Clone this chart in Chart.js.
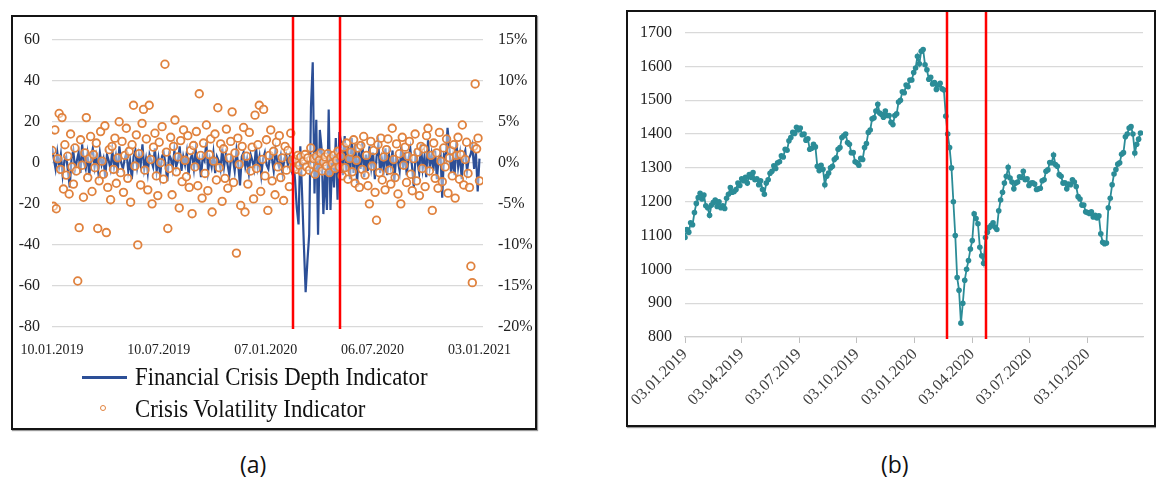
<!DOCTYPE html>
<html>
<head>
<meta charset="utf-8">
<script src="https://cdn.jsdelivr.net/npm/chart.js@4/dist/chart.umd.min.js"></script>
<style>
  body { margin: 0; background: #fff; width: 1156px; height: 481px; overflow: hidden; position: relative; font-family: "Liberation Serif", serif; }
  .box { position: absolute; border: 2px solid #141414; box-sizing: border-box; box-shadow: 1px 1px 1px #999; }
  canvas { position: absolute; }
  .cap { position: absolute; font-family: "Open Sans", sans-serif; font-size: 23px; color: #111; line-height: 1; }
  .leg { position: absolute; font-size: 25px; line-height: 25px; color: #111; white-space: nowrap; transform: scaleX(0.91); transform-origin: left top; }
  .legline { position: absolute; height: 3px; background: #2c4f97; }
  .legdot { position: absolute; width: 4px; height: 4px; border: 1.5px solid #e0823e; border-radius: 50%; }
</style>
</head>
<body>
<div class="box" style="left:11px;top:15px;width:526px;height:415px"></div>
<canvas id="chartA" width="526" height="415" style="left:11px;top:15px"></canvas>
<div class="legline" style="left:82px;top:376px;width:45px"></div>
<div class="leg" style="left:135px;top:364px">Financial Crisis Depth Indicator</div>
<div class="legdot" style="left:100px;top:405px"></div>
<div class="leg" style="left:135px;top:396px">Crisis Volatility Indicator</div>

<div class="box" style="left:626px;top:10px;width:530px;height:417px"></div>
<canvas id="chartB" width="530" height="417" style="left:626px;top:10px"></canvas>

<div class="cap" style="left:240px;top:453px">(a)</div>
<div class="cap" style="left:881px;top:453px">(b)</div>

<script>
// (a) days counted from 10.01.2019, one value every ~3 days
var depthIndicator = [
  8, 2, -3, 5, -2, 4, -6, 1, 3, -4,
  -12, 2, 6, -3, 1, 5, -5, 9, 0, -3,
  4, -6, 2, 7, -2, 3, -4, 5, -1, 2,
  -7, 4, 1, -3, 6, -2, 3, -5, 8, 0,
  -3, 2, 5, -4, 1, -8, 3, 6, -2, 4,
  -1, 9, -3, 2, -5, 4, 1, -2, 7, -4,
  2, -6, 3, 5, -1, -9, 4, 2, -3, 6,
  -2, 1, 8, -4, 3, -1, 5, -6, 2, 4,
  -3, 6, -1, 2, -7, 3, 1, 10, -4, 2,
  -2, 5, -5, 3, 1, -3, 7, -2, 4, -1,
  -6, 3, 2, -4, 6, -1, -11, 3, 5, -2,
  2, -5, 4, 1, -3, 8, -2, 3, -6, 2,
  5, -1, -3, 4, 2, -4, 6, 1, -2, 3,
  -5, 2, 4, -1, 3, -3, 2, -8, -22, -30,
  8, -15, -40, -63, -48, -35, 27, 49, -15, 21,
  -35, 16, 7, -25, -4, -23, 26, -23, 4, -12,
  12, -18, 15, 10, -6, 13, -4, 8, -8, 12,
  -5, 9, -10, 6, -3, 10, -7, 4, -4, 8,
  -2, 5, -8, 3, 9, -5, 2, -3, 7, -6,
  4, -2, 6, -9, 3, 1, -4, 8, -3, 5,
  -6, 2, 7, -2, -12, 4, 1, -5, 9, -3,
  3, -7, 11, -2, 4, -4, 6, -8, 2, 5,
  -17, 4, 2, 17, 8, -5, 2, -6, 10, -2,
  4, -8, 3, 6, -4, 2, 4, 8, -3, 5,
  -14, 2
];
// percent, one value every ~2.4 days
var volatilityIndicator = [
  1.5, -5.3, 4.0, -5.6, 0.5, 6.0, -0.8, 5.5, -3.2, 2.2,
  -1.5, 0.8, -3.8, 3.5, -0.5, -2.6, 1.8, -1.0, -14.4, -7.9,
  2.8, -0.3, -4.2, 1.2, 5.5, -1.8, 0.5, 3.2, -3.5, 1.0,
  -0.6, 2.4, -8.0, -2.2, 3.8, 0.2, -1.4, 4.5, -8.5, -3.0,
  1.6, -4.5, 2.0, -0.8, 3.0, -2.5, 0.6, 5.0, -1.2, 2.6,
  -3.6, 0.9, 4.2, -1.9, 1.4, -4.8, 2.2, 7.0, -0.4, 3.4,
  -10.0, 1.1, -2.7, 4.8, 6.5, -0.9, 2.9, -3.3, 7.0, 0.4,
  -5.0, 1.9, 3.6, -1.6, -4.0, 2.5, 0.0, 4.4, -2.0, 12.0,
  1.3, -8.0, -0.7, 3.1, -3.9, 2.0, 5.2, -1.1, 0.7, -5.5,
  2.7, -2.3, 4.0, 0.3, -1.7, 3.3, -3.0, 1.5, -6.2, 2.1,
  -0.5, 3.8, -2.8, 8.4, 0.9, -4.3, 2.4, -1.3, 4.6, -3.4,
  1.0, 2.9, -6.0, 0.2, 3.5, -2.1, 6.7, -0.6, 2.3, -4.7,
  1.7, -1.9, 4.1, -3.1, 0.6, 2.6, 6.2, -2.4, 1.2, -11.0,
  3.0, -0.2, -5.2, 2.0, 4.3, -6.0, 0.8, -2.6, 3.7, -1.0,
  1.9, -4.4, 5.8, -0.7, 2.2, 7.0, -3.5, 0.4, 6.5, -1.6,
  2.8, -5.8, 0.9, 4.0, -2.2, 1.4, -3.9, 2.5, -0.5, 3.3,
  -1.8, 0.6, -4.6, 2.0, -0.9, 1.5, -2.9, 3.6, 0.3, -0.6,
  0.4, -0.8, 0.9, -0.3, 0.7, -1.1, 0.2, 1.0, -0.5, 0.6,
  -0.9, 1.8, -0.2, 0.5, -1.4, 0.8, -0.6, 0.3, 1.2, -1.0,
  0.1, 0.7, -0.4, 1.1, -1.2, 0.5, -0.1, 0.9, -0.7, 0.3,
  1.4, -0.5, 0.8, -1.6, 1.9, -0.6, 2.4, -2.0, 0.5, 1.3,
  -1.1, 2.8, -2.5, 0.3, 1.8, -3.0, 2.1, -0.8, 3.2, -1.5,
  0.9, -2.8, -5.0, 2.6, -0.4, 1.5, -3.6, -7.0, 2.2, -1.2,
  3.0, -2.1, 0.7, -3.3, 1.6, 2.9, -0.9, -2.6, 4.2, 0.4,
  -1.8, 2.3, -3.8, 1.1, -5.0, 3.1, -0.3, 1.9, -2.4, 0.8,
  2.6, -1.4, -3.4, 0.5, 3.5, -2.2, 1.3, -4.0, 2.0, -0.7,
  1.7, -2.9, 3.3, 4.2, -1.0, 0.9, -5.8, 2.4, -1.9, 1.2,
  -3.1, 3.7, 0.2, -2.3, 1.8, -0.5, 2.9, -3.7, 0.6, 1.5,
  -1.6, 2.2, -4.3, 0.9, 3.1, -2.0, 1.0, 4.6, -2.7, 0.4,
  2.5, -1.3, -3.0, -12.6, -14.6, 2.0, 9.6, 1.7, 3.0, -2.2
];
var spanA = 724;
var tickDaysA = [0, 181, 362, 543, 724];
var tickLabelsA = ['10.01.2019', '10.07.2019', '07.01.2020', '06.07.2020', '03.01.2021'];
var crisisDaysA = [408, 487];

// (b) days counted from 03.01.2019, one value every 3 days
var indexPrice = [
  1094, 1118, 1110, 1138, 1132, 1168, 1195, 1212, 1225, 1208,
  1220, 1188, 1182, 1160, 1190, 1198, 1205, 1186, 1200, 1182,
  1188, 1180, 1210, 1222, 1242, 1228, 1230, 1236, 1255, 1248,
  1268, 1262, 1272, 1255, 1280, 1272, 1286, 1265, 1268, 1250,
  1262, 1236, 1222, 1255, 1265, 1284, 1290, 1306, 1298, 1315,
  1318, 1336, 1332, 1355, 1352, 1380, 1390, 1405, 1402, 1420,
  1412, 1418, 1398, 1400, 1382, 1386, 1355, 1358, 1370, 1362,
  1305, 1292, 1308, 1296, 1250, 1275, 1285, 1300, 1305, 1325,
  1330, 1355, 1360, 1390, 1395, 1400, 1375, 1370, 1345, 1345,
  1318, 1315, 1308, 1328, 1325, 1360, 1372, 1405, 1412, 1445,
  1448, 1468, 1488, 1462, 1458, 1450, 1468, 1455, 1455, 1435,
  1428, 1455, 1460, 1495, 1500, 1525, 1522, 1545, 1540, 1560,
  1560, 1582, 1595, 1630, 1608, 1645, 1650, 1605, 1590, 1562,
  1568, 1548, 1552, 1532, 1545, 1550, 1534, 1530, 1453, 1400,
  1360, 1300, 1200, 1100, 976, 938, 841, 900, 968, 1000,
  1026, 1060, 1085, 1164, 1150, 1135, 1065, 1040, 1018, 1094,
  1110, 1124, 1130, 1138, 1125, 1118, 1173, 1205, 1228, 1255,
  1275, 1302, 1270, 1258, 1238, 1255, 1258, 1274, 1272, 1290,
  1265, 1268, 1248, 1255, 1256, 1252, 1236, 1238, 1240, 1262,
  1265, 1290, 1294, 1316, 1315, 1338, 1310, 1305, 1280, 1275,
  1255, 1256, 1238, 1252, 1250, 1265, 1258, 1245, 1215, 1208,
  1190, 1190, 1170, 1168, 1165, 1170, 1155, 1160, 1152, 1158,
  1105, 1080, 1076, 1078, 1182, 1210, 1250, 1282, 1295, 1311,
  1315, 1340, 1345, 1392, 1400, 1418, 1422, 1400, 1344, 1370,
  1385, 1403
];
var spanB = 723;
var tickDaysB = [0, 90, 181, 273, 365, 456, 547, 639];
var tickLabelsB = ['03.01.2019', '03.04.2019', '03.07.2019', '03.10.2019', '03.01.2020', '03.04.2020', '03.07.2020', '03.10.2020'];
var crisisDaysB = [416, 478];

function toPoints(values, span) {
  return values.map(function (v, i) {
    return { x: i * span / (values.length - 1), y: v };
  });
}

// red vertical lines marking the crisis window
var crisisLines = {
  id: 'crisisLines',
  afterDatasetsDraw: function (chart, args, opts) {
    var ctx = chart.ctx, xs = chart.scales.x;
    ctx.save();
    ctx.strokeStyle = '#ff0000';
    ctx.lineWidth = 2.5;
    opts.days.forEach(function (d) {
      var px = Math.round(xs.getPixelForValue(d));
      ctx.beginPath();
      ctx.moveTo(px, opts.top);
      ctx.lineTo(px, chart.chartArea.bottom + 2);
      ctx.stroke();
    });
    ctx.restore();
  }
};

var serif = "'Liberation Serif', 'Times New Roman', serif";
Chart.defaults.font.family = serif;

new Chart(document.getElementById('chartA'), {
  type: 'scatter',
  data: {
    datasets: [{
      label: 'Financial Crisis Depth Indicator',
      data: toPoints(depthIndicator, spanA),
      showLine: true,
      borderColor: '#2c4f97',
      borderWidth: 2.2,
      pointRadius: 0,
      yAxisID: 'y',
      order: 2
    }, {
      label: 'Crisis Volatility Indicator',
      data: toPoints(volatilityIndicator, spanA),
      borderColor: '#e0823e',
      backgroundColor: 'rgba(255,255,255,0.45)',
      pointRadius: 3.8,
      pointBorderWidth: 1.8,
      yAxisID: 'y1',
      order: 1
    }]
  },
  options: {
    responsive: false,
    animation: false,
    layout: { padding: { top: 14 } },
    plugins: {
      legend: { display: false },
      tooltip: { enabled: false },
      crisisLines: { days: crisisDaysA, top: 2 }
    },
    scales: {
      x: {
        type: 'linear', min: 0, max: 730,
        grid: { display: false },
        border: { display: false },
        afterBuildTicks: function (s) { s.ticks = tickDaysA.map(function (v) { return { value: v }; }); },
        afterFit: function (s) { s.height = 103; },
        ticks: {
          padding: 7, maxRotation: 0, autoSkip: false, color: '#222',
          font: { family: serif, size: 14 },
          callback: function (v) { return tickLabelsA[tickDaysA.indexOf(v)]; }
        }
      },
      y: {
        position: 'left', min: -80, max: 60,
        afterFit: function (s) { s.width = 41; },
        ticks: { stepSize: 20, padding: 12, color: '#222', font: { family: serif, size: 16 },
          callback: function (v) { return String(v); } },
        grid: { color: '#d9d9d9', lineWidth: 1.2, drawTicks: false },
        border: { display: false }
      },
      y1: {
        position: 'right', min: -20, max: 15,
        afterFit: function (s) { s.width = 54; },
        ticks: { stepSize: 5, padding: 15, color: '#222', font: { family: serif, size: 16 },
          callback: function (v) { return v + '%'; } },
        grid: { drawOnChartArea: false, drawTicks: false },
        border: { display: false }
      }
    }
  },
  plugins: [crisisLines]
});

new Chart(document.getElementById('chartB'), {
  type: 'line',
  data: {
    datasets: [{
      label: 'Index',
      data: toPoints(indexPrice, spanB),
      borderColor: '#2b8c97',
      borderWidth: 1.8,
      pointRadius: 2.8,
      pointBackgroundColor: '#2b8c97',
      pointBorderWidth: 0
    }]
  },
  options: {
    responsive: false,
    animation: false,
    layout: { padding: { top: 21, right: 13 } },
    plugins: {
      legend: { display: false },
      tooltip: { enabled: false },
      crisisLines: { days: crisisDaysB, top: 2 }
    },
    scales: {
      x: {
        type: 'linear', min: 0, max: 727,
        afterBuildTicks: function (s) { s.ticks = tickDaysB.map(function (v) { return { value: v }; }); },
        afterFit: function (s) { s.height = 90; },
        grid: { drawOnChartArea: false, drawTicks: true, tickLength: 6, color: '#bfbfbf' },
        border: { display: true, color: '#cfcfcf', width: 1.2 },
        ticks: {
          minRotation: 45, maxRotation: 45, padding: 2, autoSkip: false, color: '#404040',
          font: { family: serif, size: 16 },
          callback: function (v) { return tickLabelsB[tickDaysB.indexOf(v)]; }
        }
      },
      y: {
        min: 800, max: 1700,
        afterFit: function (s) { s.width = 59; },
        ticks: { stepSize: 100, padding: 13, color: '#222', font: { family: serif, size: 16 },
          callback: function (v) { return String(v); } },
        grid: { color: '#d9d9d9', lineWidth: 1.2, drawTicks: false },
        border: { display: false }
      }
    }
  },
  plugins: [crisisLines]
});
</script>
</body>
</html>
